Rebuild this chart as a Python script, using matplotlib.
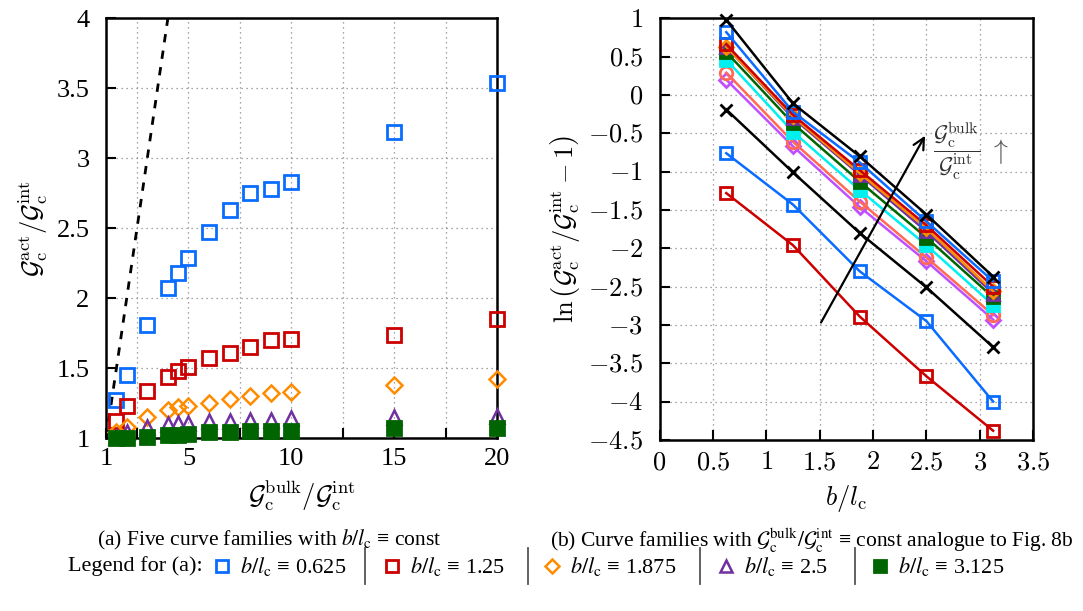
import matplotlib
matplotlib.use("Agg")
import matplotlib.pyplot as plt
from matplotlib.lines import Line2D

plt.rcParams['font.family'] = ['Liberation Serif', 'DejaVu Serif']
plt.rcParams['mathtext.fontset'] = 'cm'

# ---- data (a): G_act/G_int over G_bulk/G_int, one family per b/l_c ----
gb = [1.5, 2, 3, 4, 4.5, 5, 6, 7, 8, 9, 10, 15, 20]
act_0625 = [1.27, 1.45, 1.81, 2.07, 2.18, 2.29, 2.47, 2.63, 2.75, 2.78, 2.83, 3.19, 3.54]
act_125 = [1.12, 1.23, 1.34, 1.44, 1.48, 1.51, 1.57, 1.61, 1.65, 1.70, 1.71, 1.74, 1.85]
act_1875 = [1.04, 1.08, 1.15, 1.20, 1.22, 1.23, 1.25, 1.28, 1.30, 1.32, 1.33, 1.38, 1.42]
act_25 = [1.01, 1.04, 1.08, 1.10, 1.11, 1.11, 1.12, 1.12, 1.13, 1.13, 1.14, 1.15, 1.16]
act_3125 = [1.00, 1.00, 1.01, 1.02, 1.02, 1.03, 1.04, 1.04, 1.05, 1.05, 1.05, 1.07, 1.07]
bl_values = ['0.625', '1.25', '1.875', '2.5', '3.125']

# ---- data (b): ln(G_act/G_int - 1) over b/l_c ----
bl = [0.625, 1.25, 1.875, 2.5, 3.125]
ln_black_hi = [0.98, -0.11, -0.80, -1.56, -2.37]
ln_blue_hi = [0.82, -0.22, -0.88, -1.65, -2.43]
ln_red_hi = [0.66, -0.26, -0.98, -1.70, -2.50]
ln_orange = [0.63, -0.28, -1.02, -1.74, -2.56]
ln_purple = [0.63, -0.30, -1.04, -1.78, -2.59]
ln_green = [0.56, -0.37, -1.13, -1.86, -2.64]
ln_cyan = [0.46, -0.48, -1.24, -1.96, -2.74]
ln_salmon = [0.29, -0.61, -1.39, -2.12, -2.87]
ln_violet = [0.20, -0.67, -1.46, -2.17, -2.93]
ln_black_lo = [-0.19, -1.01, -1.80, -2.51, -3.29]
ln_blue_lo = [-0.76, -1.43, -2.30, -2.95, -4.00]
ln_red_lo = [-1.28, -1.96, -2.89, -3.67, -4.38]

blue = '#0a6cff'
red = '#cc0000'
orange = '#ff8c00'
purple = '#7030a0'
green = '#006400'
cyan = '#00f0f0'
salmon = '#ff6a55'
violet = '#c050ff'

fam_styles = [
    dict(marker='s', mfc='none', mec=blue, ms=10, mew=2),
    dict(marker='s', mfc='none', mec=red, ms=10, mew=2),
    dict(marker='D', mfc='none', mec=orange, ms=8, mew=1.8),
    dict(marker='^', mfc='none', mec=purple, ms=10, mew=1.8),
    dict(marker='s', mfc=green, mec=green, ms=10, mew=2),
]

fig = plt.figure(figsize=(10.83, 6.11), dpi=100)
ax1 = fig.add_axes([0.098, 0.283, 0.361, 0.687])
ax2 = fig.add_axes([0.609, 0.280, 0.345, 0.690])

grid_kw = dict(color='#888888', linestyle=(0, (1, 3)), linewidth=0.9)

# ---- (a) ----
ax1.plot([1, 4.2], [1, 4.2], color='black', linestyle=(0, (3, 3)), linewidth=2)
for vals, st in zip([act_0625, act_125, act_1875, act_25, act_3125], fam_styles):
    ax1.plot(gb, vals, linestyle='none', clip_on=False, zorder=3, **st)
ax1.set_xlim(1, 20)
ax1.set_ylim(1, 4)
xt = [1, 2.5, 5, 7.5, 10, 12.5, 15, 17.5, 20]
ax1.set_xticks(xt)
ax1.set_xticklabels(['1', '', '5', '', '10', '', '15', '', '20'])
ax1.set_yticks([1, 1.5, 2, 2.5, 3, 3.5, 4])
ax1.set_yticklabels(['1', '1.5', '2', '2.5', '3', '3.5', '4'])
ax1.grid(True, **grid_kw)
ax1.set_xlabel(r'$\mathcal{G}_\mathrm{c}^\mathrm{bulk}/\mathcal{G}_\mathrm{c}^\mathrm{int}$', fontsize=19, labelpad=6)
ax1.set_ylabel(r'$\mathcal{G}_\mathrm{c}^\mathrm{act}/\mathcal{G}_\mathrm{c}^\mathrm{int}$', fontsize=19, labelpad=5)

# ---- (b) ----
series_b = [
    (ln_red_lo, dict(color=red, marker='s', mfc='none', mec=red)),
    (ln_blue_lo, dict(color=blue, marker='s', mfc='none', mec=blue)),
    (ln_black_lo, dict(color='black', marker='x', mec='black')),
    (ln_violet, dict(color=violet, marker='D', mfc='none', mec=violet, ms=7)),
    (ln_salmon, dict(color=salmon, marker='o', mfc='none', mec=salmon)),
    (ln_cyan, dict(color=cyan, marker='s', mfc=cyan, mec=cyan)),
    (ln_green, dict(color=green, marker='s', mfc=green, mec=green)),
    (ln_purple, dict(color=purple, marker='^', mfc='none', mec=purple)),
    (ln_orange, dict(color=orange, marker='D', mfc='none', mec=orange, ms=7)),
    (ln_red_hi, dict(color=red, marker='s', mfc='none', mec=red)),
    (ln_blue_hi, dict(color=blue, marker='s', mfc='none', mec=blue)),
    (ln_black_hi, dict(color='black', marker='x', mec='black')),
]
for vals, st in series_b:
    kw = dict(ms=9, mew=2, lw=1.8)
    kw.update(st)
    ax2.plot(bl, vals, clip_on=False, zorder=3, **kw)

ax2.set_xlim(0, 3.5)
ax2.set_ylim(-4.5, 1)
bx = [0, 0.5, 1, 1.5, 2, 2.5, 3, 3.5]
by = [1, 0.5, 0, -0.5, -1, -1.5, -2, -2.5, -3, -3.5, -4, -4.5]
ax2.set_xticks(bx)
ax2.set_xticklabels(['$%g$' % v for v in bx])
ax2.set_yticks(by)
ax2.set_yticklabels(['$%g$' % v for v in by])
ax2.grid(True, **grid_kw)
ax2.set_xlabel(r'$b/l_\mathrm{c}$', fontsize=19, labelpad=6)
ax2.set_ylabel(r'$\ln\left(\mathcal{G}_\mathrm{c}^\mathrm{act}/\mathcal{G}_\mathrm{c}^\mathrm{int}-1\right)$',
               fontsize=19, labelpad=4)

ax2.annotate('', xy=(2.5, -0.5), xytext=(1.5, -3.0),
             arrowprops=dict(arrowstyle='->', color='black', lw=1.6, mutation_scale=20))
ax2.text(2.56, -0.74, r'$\dfrac{\mathcal{G}_\mathrm{c}^\mathrm{bulk}}{\mathcal{G}_\mathrm{c}^\mathrm{int}}$',
         fontsize=16, color='#333333', ha='left', va='center')
ax2.text(3.18, -0.74, r'$\uparrow$', fontsize=20, color='#555555', ha='center', va='center')

for ax in (ax1, ax2):
    for sp in ax.spines.values():
        sp.set_linewidth(1.8)
    ax.tick_params(direction='in', length=7, width=1.5, labelsize=19)
ax1.tick_params(axis='y', pad=12)
ax1.tick_params(axis='x', pad=7)
ax2.tick_params(axis='y', pad=12)
ax2.tick_params(axis='x', pad=9)
for ax in (ax1, ax2):
    ax.set_axisbelow(True)

# ---- captions ----
cap_kw = dict(ha='center', va='center', fontsize=15.5, math_fontfamily='stix')
fig.text(0.249, 1 - 540 / 611, r'(a) Five curve families with $b/l_\mathrm{c}$ ≡ const', **cap_kw)
fig.text(0.750, 1 - 540 / 611,
         r'(b) Curve families with $\mathcal{G}_\mathrm{c}^\mathrm{bulk}/\mathcal{G}_\mathrm{c}^\mathrm{int}$ ≡ const analogue to Fig. 8b',
         **cap_kw)

# ---- legend row for (a) ----
ly = 1 - 566 / 611
fig.text(68 / 1083, ly, 'Legend for (a):', ha='left', va='center', fontsize=16)
marker_x = [222, 392, 552, 726, 880]
sep_x = [365, 528, 700, 855]
for mx, st, lab in zip(marker_x, fam_styles, bl_values):
    s = dict(st)
    s['ms'] = s['ms'] * 0.85
    fig.add_artist(Line2D([mx / 1083], [ly], linestyle='none', transform=fig.transFigure, **s))
    fig.text((mx + 18) / 1083, ly, r'$b/l_\mathrm{c}$ ≡ ' + lab, ha='left', va='center',
             fontsize=16, math_fontfamily='stix')
for sx in sep_x:
    fig.add_artist(Line2D([sx / 1083, sx / 1083], [ly - 0.03, ly + 0.03],
                          color='#555555', lw=1.3, transform=fig.transFigure))

fig.savefig('out.png', dpi=100)
